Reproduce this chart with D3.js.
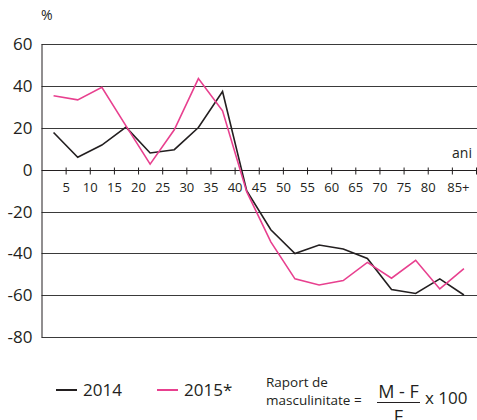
<!DOCTYPE html>
<html>
<head>
<meta charset="utf-8">
<script src="https://cdn.jsdelivr.net/npm/d3@7"></script>
<style>
    body { margin: 0; background: #fff; }
    svg text { font-family: "Open Sans", sans-serif; fill: #231f20; }
</style>
</head>
<body>
<div id="chart"></div>
<script>
// Raport de masculinitate pe grupe de varsta
const ageGroups = ["0-4", "5-9", "10-14", "15-19", "20-24", "25-29", "30-34", "35-39", "40-44",
    "45-49", "50-54", "55-59", "60-64", "65-69", "70-74", "75-79", "80-84", "85+"];
const tickLabels = ["5", "10", "15", "20", "25", "30", "35", "40", "45", "50", "55", "60", "65", "70", "75", "80", "85+"];
const yTicks = [60, 40, 20, 0, -20, -40, -60, -80];
const values2014 = [17.8, 6, 11.8, 20.4, 8, 9.6, 20.2, 37.4, -10, -28.7, -40.1, -36, -37.9, -42.4, -57.3, -59.2, -52.2, -59.9];
const values2015 = [35.4, 33.4, 39.4, 21, 2.7, 19.1, 43.6, 28.2, -10.5, -34.5, -52.2, -55.1, -53, -44.3, -51.9, -43.3, -57, -47.3];
const seriesNames = ["2014", "2015*"];

const width = 477, height = 420;
const colors = { "2014": "#231f20", "2015*": "#e8408f" };

const svg = d3.select("#chart")
    .append("svg")
    .attr("width", width)
    .attr("height", height);

const x = d3.scaleLinear()
    .domain([0, ageGroups.length])
    .range([41.5, 476]);

const y = d3.scaleLinear()
    .domain([-80, 60])
    .range([337, 44.3]);

// grid lines
svg.append("g")
    .selectAll("line")
    .data(yTicks.filter(d => d !== 0))
    .join("line")
    .attr("x1", x(0))
    .attr("x2", width)
    .attr("y1", d => Math.round(y(d)) + 0.5)
    .attr("y2", d => Math.round(y(d)) + 0.5)
    .attr("stroke", "#3a3a3a")
    .attr("stroke-width", 1);

// y axis
const yAxis = svg.append("g")
    .attr("transform", `translate(${x(0)},0)`)
    .call(d3.axisLeft(y).tickValues(yTicks).tickSize(0).tickPadding(9).tickFormat(d => d));
yAxis.select(".domain")
    .attr("stroke", "#231f20")
    .attr("d", `M0.5,${y(60)}V${Math.round(y(-80)) + 0.5}`);
yAxis.selectAll("text")
    .attr("font-size", 17)
    .attr("font-family", "Open Sans, sans-serif")
    .attr("fill", "#231f20");

// x axis on zero line
const xAxis = svg.append("g")
    .attr("transform", `translate(0,${Math.round(y(0)) + 0.5})`)
    .call(d3.axisBottom(x)
        .tickValues(d3.range(1, ageGroups.length + 1))
        .tickSize(4)
        .tickPadding(8)
        .tickFormat(d => tickLabels[d - 1] || ""));
xAxis.select(".domain")
    .attr("stroke", "#231f20")
    .attr("d", `M${x(0)},0H${width}`);
xAxis.selectAll(".tick line")
    .attr("stroke", "#231f20")
    .attr("y1", -3)
    .attr("y2", 4);
xAxis.selectAll("text")
    .attr("font-size", 13)
    .attr("font-family", "Open Sans, sans-serif")
    .attr("fill", "#231f20")
    .attr("dx", d => d === 17 ? 6 : 0);

// lines
const line = d3.line()
    .x((d, i) => x(i + 0.5))
    .y(d => y(d));

[values2014, values2015].forEach((vals, k) => {
    svg.append("path")
        .datum(vals)
        .attr("fill", "none")
        .attr("stroke", colors[seriesNames[k]])
        .attr("stroke-width", 1.6)
        .attr("stroke-linejoin", "miter")
        .attr("d", line);
});

// axis titles
svg.append("text")
    .attr("x", 41)
    .attr("y", 20)
    .attr("font-size", 14)
    .text("%");

svg.append("text")
    .attr("x", 472)
    .attr("y", 158)
    .attr("text-anchor", "end")
    .attr("font-size", 14)
    .text("ani");

// legend
const legendX = [56, 157];
seriesNames.forEach((name, i) => {
    const g = svg.append("g").attr("transform", `translate(${legendX[i]},390)`);
    g.append("line")
        .attr("x1", 0)
        .attr("x2", 21)
        .attr("stroke", colors[name])
        .attr("stroke-width", 2);
    g.append("text")
        .attr("x", 27)
        .attr("y", 6)
        .attr("font-size", 17)
        .text(name);
});

// formula
svg.append("text")
    .attr("x", 266)
    .attr("y", 387)
    .attr("font-size", 13.5)
    .text("Raport de");
svg.append("text")
    .attr("x", 266)
    .attr("y", 404.5)
    .attr("font-size", 13.5)
    .text("masculinitate =");
svg.append("text")
    .attr("x", 398.5)
    .attr("y", 397.5)
    .attr("text-anchor", "middle")
    .attr("font-size", 18)
    .text("M - F");
svg.append("line")
    .attr("x1", 377)
    .attr("x2", 420)
    .attr("y1", 402.5)
    .attr("y2", 402.5)
    .attr("stroke", "#231f20")
    .attr("stroke-width", 1.2);
svg.append("text")
    .attr("x", 398.5)
    .attr("y", 423)
    .attr("text-anchor", "middle")
    .attr("font-size", 18)
    .text("F");
svg.append("text")
    .attr("x", 425)
    .attr("y", 403.5)
    .attr("font-size", 17)
    .text("x 100");
</script>
</body>
</html>
